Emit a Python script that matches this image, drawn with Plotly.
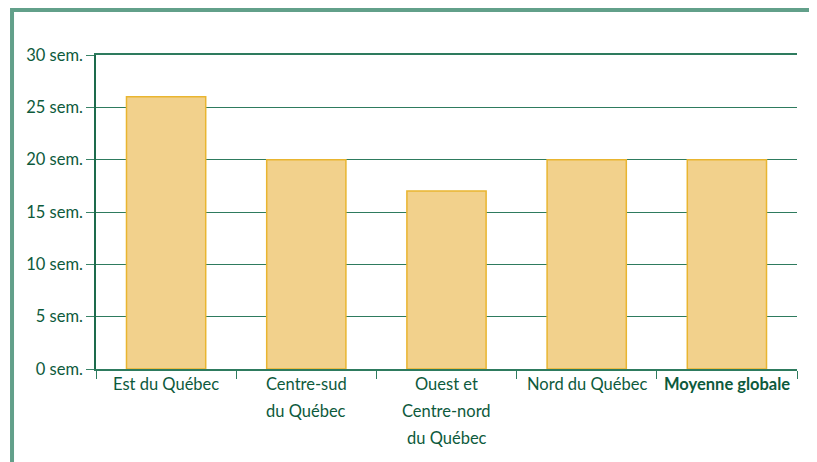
import plotly.graph_objects as go

categories = ["Est du Québec", "Centre-sud du Québec", "Ouest et Centre-nord du Québec",
              "Nord du Québec", "Moyenne globale"]
label_lines = [["Est du Québec"], ["Centre-sud", "du Québec"], ["Ouest et", "Centre-nord", "du Québec"],
               ["Nord du Québec"], ["<b>Moyenne globale</b>"]]
weeks = [26, 20, 17, 20, 20]
y_ticks = [0, 5, 10, 15, 20, 25, 30]
y_ticktext = [f"{v} sem." for v in y_ticks]

GREEN = "#0d5a3c"
FONT = "Lato, Roboto, sans-serif"

fig = go.Figure(go.Bar(
    x=categories, y=weeks, width=0.565,
    marker=dict(color="#f2d18c", line=dict(color="#e9b530", width=1.5)),
    hoverinfo="skip",
))

annotations = []
for cat, lines in zip(categories, label_lines):
    for i, line in enumerate(lines):
        annotations.append(dict(
            x=cat, xref="x", y=0, yref="paper", yanchor="top", xanchor="center",
            yshift=-3 - 27 * i, text=line, showarrow=False,
            font=dict(family=FONT, size=16.5, color=GREEN),
        ))

fig.update_layout(
    width=809, height=454,
    margin=dict(l=88, r=20, t=47, b=93),
    paper_bgcolor="white", plot_bgcolor="white",
    showlegend=False,
    font=dict(family=FONT, size=16.5, color=GREEN),
    bargap=0.435,
    xaxis=dict(
        showline=True, linecolor="#2e7b5e", linewidth=1.5, mirror=True,
        ticks="outside", tickson="boundaries", ticklen=8, tickcolor="#2e7b5e",
        showgrid=False, zeroline=False, showticklabels=False, automargin=False,
    ),
    yaxis=dict(
        range=[0, 30], tickvals=y_ticks, ticktext=y_ticktext,
        showline=True, linecolor="#1d6b4c", linewidth=1.5,
        ticks="outside", ticklen=8, tickcolor="#3a8468",
        showgrid=True, gridcolor="#2e7b5e", gridwidth=1,
        zeroline=False, automargin=False,
        tickfont=dict(family=FONT, size=16.5, color=GREEN),
    ),
    annotations=annotations,
    shapes=[
        dict(type="line", xref="paper", yref="paper", x0=-0.1198, x1=1.03, y0=1.1433, y1=1.1433,
             line=dict(color="#62a08a", width=4)),
        dict(type="line", xref="paper", yref="paper", x0=-0.1198, x1=-0.1198, y0=1.1433 + 0.006, y1=-0.3,
             line=dict(color="#62a08a", width=4)),
    ],
)

fig.write_html("out.html")
